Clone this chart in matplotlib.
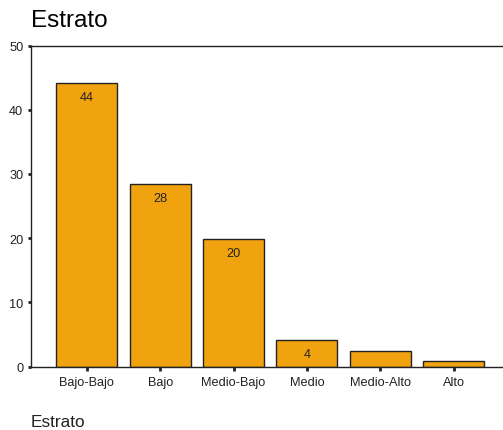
import matplotlib
matplotlib.use('Agg')  # no display
import matplotlib.pyplot as plt

categories = ["Bajo-Bajo", "Bajo", "Medio-Bajo", "Medio", "Medio-Alto", "Alto"]
percent = [44.2, 28.4, 19.9, 4.2, 2.4, 0.9]
yticks = [0, 10, 20, 30, 40, 50]

plt.rcParams['font.family'] = ['Liberation Sans', 'DejaVu Sans']

fig = plt.figure(figsize=(5.03, 4.31), dpi=100)
ax = fig.add_axes([31 / 503, 1 - 367.5 / 431, 1 - 31 / 503 + 0.001, (367.5 - 46.5) / 431])

x = range(len(categories))
bars = ax.bar(x, percent, width=0.83, color='#F0A30F', edgecolor='#222222', linewidth=1)

# only the bigger bars carry a label
for b, v in zip(bars, percent):
    if v >= 3:
        ax.text(b.get_x() + b.get_width() / 2, v - 2.2, "%.0f" % v,
                ha='center', va='center', fontsize=9.2, color='#222222')

ax.set_xlim(-0.76, 5.68)
ax.set_ylim(0, 50)
ax.set_xticks(list(x))
ax.set_xticklabels(categories, fontsize=9.2, color='#222222')
ax.set_yticks(yticks)
ax.set_yticklabels([str(t) for t in yticks], fontsize=9.2, color='#222222')
ax.tick_params(axis='x', length=3, width=2, pad=4, color='#222222')
ax.tick_params(axis='y', length=2.5, width=2, pad=3, color='#222222')
ax.spines['right'].set_visible(False)
for s in ['left', 'top', 'bottom']:
    ax.spines[s].set_color('#222222')
    ax.spines[s].set_linewidth(1)

fig.text(31 / 503, 1 - 26.7 / 431, "Estrato", fontsize=17.5, va='baseline', ha='left')
fig.text(31 / 503, 1 - 426.7 / 431, "Estrato", fontsize=12.4, va='baseline', ha='left', color='#222222')

fig.savefig('out.png', dpi=100)
